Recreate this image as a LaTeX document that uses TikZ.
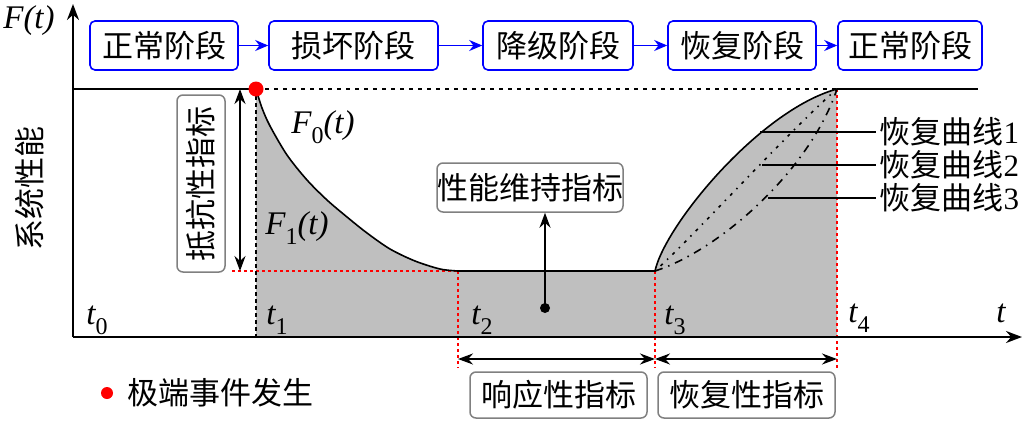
\documentclass[tikz,border=0pt]{standalone}
\usepackage{fontspec}
\setmainfont{Liberation Serif}
\newfontfamily\cjk{Noto Sans CJK SC}
\usetikzlibrary{arrows.meta}
\newcommand\lsub[1]{\raisebox{-0.3em}{\fontsize{24}{24}\selectfont\upshape #1}}
\begin{document}
\begin{tikzpicture}[x=1pt,y=-1pt,
  cjkfont/.style={font=\cjk\fontsize{31}{31}\selectfont},
  latfont/.style={font=\fontsize{33}{33}\selectfont\itshape},
  stage/.style={draw=blue, line width=1.6pt, rounded corners=5pt, minimum height=49pt, inner sep=0pt, cjkfont},
  gbox/.style={draw=black!50, line width=1.5pt, rounded corners=6pt, inner sep=0pt, cjkfont},
  blarrow/.style={blue, line width=1.8pt, -{Stealth[length=13pt,width=11pt]}},
  axis/.style={line width=2.2pt, -{Stealth[length=16pt,width=12pt]}},
  dblarrow/.style={line width=1.8pt, {Stealth[length=15pt,width=11pt]}-{Stealth[length=15pt,width=11pt]}},
  redline/.style={red, line width=1.6pt, dash pattern=on 3pt off 3pt},
  curve/.style={line width=1.6pt},
  shade/.style={fill=black!25}
]
\useasboundingbox (0,0) rectangle (1035,426);

% shaded area
\fill[shade] (256,337) -- plot[smooth] coordinates {(256,89) (262,108) (270,126) (287,155) (307,180) (327,200) (347,217) (367,233) (390,249) (415,261) (440,269) (458,271)} -- (655,271) .. controls (665,225) and (760,110) .. (837,89) -- (837,337) -- cycle;

% guide lines
\draw[redline] (232,271) -- (458,271);
\draw[black, line width=1.6pt, dash pattern=on 4pt off 3pt] (256,89) -- (256,337);
\draw[redline] (458,271) -- (458,368);
\draw[redline] (655,271) -- (655,368);
\draw[redline] (837,89) -- (837,368);

% performance curve
\draw[curve] plot[smooth] coordinates {(256,89) (262,108) (270,126) (287,155) (307,180) (327,200) (347,217) (367,233) (390,249) (415,261) (440,269) (458,271)} -- (655,271) .. controls (665,225) and (760,110) .. (837,89);
\draw[line width=1.6pt, dash pattern=on 1.5pt off 6pt on 3pt off 6pt] (655,271) .. controls (690,240) and (790,130) .. (837,89);
\draw[line width=1.6pt, dash pattern=on 8pt off 6pt on 1.5pt off 6pt] (655,271) .. controls (720,250) and (810,170) .. (837,89);

% top line
\draw[line width=1.8pt] (73,89) -- (256,89);
\draw[line width=1.6pt, dash pattern=on 4pt off 5pt] (256,89) -- (837,89);
\draw[line width=1.8pt] (837,89) -- (978,89);

% axes
\coordinate (O) at (73,337);
\coordinate (ytop) at (73,4);
\coordinate (xend) at (1022,337);
\draw[axis] (O) -- (ytop);
\draw[axis] (O) -- (xend);
\node[latfont, anchor=center] (Ft) at (29,21) {F({\itshape t})};
\node[cjkfont, rotate=90] (ylab) at (30,188) {系统性能};

% stages
\node[stage, minimum width=148pt] (s1) at (164,45.5) {正常阶段};
\node[stage, minimum width=169pt] (s2) at (353.5,45.5) {损坏阶段};
\node[stage, minimum width=150pt] (s3) at (558,45.5) {降级阶段};
\node[stage, minimum width=148pt] (s4) at (742,45.5) {恢复阶段};
\node[stage, minimum width=144pt] (s5) at (910,45.5) {正常阶段};
\draw[blarrow] (s1) -- (s2);
\draw[blarrow] (s2) -- (s3);
\draw[blarrow] (s3) -- (s4);
\draw[blarrow] (s4) -- (s5);

% event dot
\fill[red] (256,89) circle (7.5pt);

% resistance indicator
\coordinate (ra) at (240,89);
\coordinate (rb) at (240,271);
\draw[dblarrow] (ra) -- (rb);
\node[gbox, rotate=90, minimum width=177pt, minimum height=48pt] (res) at (201,183.5) {抵抗性指标};

% curve labels
\node[latfont] (F0) at (323,127) {F\lsub{0}(t)};
\node[latfont] (F1) at (297,228) {F\lsub{1}(t)};

% maintenance indicator
\node[gbox, minimum width=184pt, minimum height=49pt] (maint) at (530,187.5) {性能维持指标};
\coordinate (mdot) at (545,308);
\fill (mdot) circle (5pt);
\draw[line width=1.8pt, -{Stealth[length=15pt,width=11pt]}] (mdot) -- (maint.south -| mdot);

% time labels
\node[latfont] (t0) at (97,320) {t\lsub{0}};
\node[latfont] (t1) at (277,320) {t\lsub{1}};
\node[latfont] (t2) at (482,320) {t\lsub{2}};
\node[latfont] (t3) at (675,320) {t\lsub{3}};
\node[latfont] (t4) at (859,318) {t\lsub{4}};
\node[latfont] (t) at (1001,313) {t};

% bottom indicators
\coordinate (b2) at (458,359);
\coordinate (b3) at (655,359);
\coordinate (b4) at (837,359);
\draw[dblarrow] (b2) -- (b3);
\draw[dblarrow] (b3) -- (b4);
\node[gbox, minimum width=177pt, minimum height=46pt] (resp) at (558.5,395) {响应性指标};
\node[gbox, minimum width=177pt, minimum height=46pt] (rec) at (746.5,395) {恢复性指标};

% recovery curve legend
\coordinate (c1) at (760,132);
\coordinate (c2) at (762,165);
\coordinate (c3) at (768,198);
\node[cjkfont, anchor=west] (l1) at (876,132) {恢复曲线\fontspec{Liberation Serif}1};
\node[cjkfont, anchor=west] (l2) at (876,165) {恢复曲线\fontspec{Liberation Serif}2};
\node[cjkfont, anchor=west] (l3) at (876,198) {恢复曲线\fontspec{Liberation Serif}3};
\draw[line width=1.8pt] (c1) -- (l1.west);
\draw[line width=1.8pt] (c2) -- (l2.west);
\draw[line width=1.8pt] (c3) -- (l3.west);

% legend
\fill[red] (107,393) circle (6pt) coordinate (ev);
\node[cjkfont, anchor=west] (evl) at (124,393) {极端事件发生};
\end{tikzpicture}
\end{document}
